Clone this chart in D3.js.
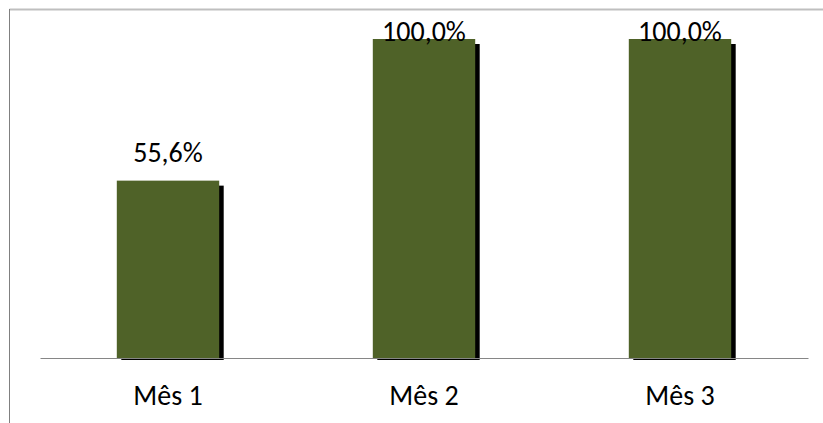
<!DOCTYPE html>
<html>
<head>
<meta charset="utf-8">
<script src="https://cdn.jsdelivr.net/npm/d3@7"></script>
<style>
html,body{margin:0;padding:0;background:#fff;}
svg{display:block;}
text{font-family:Carlito, Calibri, Lato, "Open Sans", sans-serif;fill:#000;}
</style>
</head>
<body>
<svg id="chart" width="823" height="423"></svg>
<script>
const categories = ["Mês 1", "Mês 2", "Mês 3"];
const values = [0.556, 1.0, 1.0];
const valueLabels = ["55,6%", "100,0%", "100,0%"];

const W = 823, H = 423;
const svg = d3.select("#chart");

// chart frame
svg.append("line").attr("x1", 9.5).attr("x2", 823).attr("y1", 9.5).attr("y2", 9.5)
  .attr("stroke", "#bfbfbf").attr("stroke-width", 2);
svg.append("line").attr("x1", 9.5).attr("x2", 9.5).attr("y1", 9).attr("y2", H)
  .attr("stroke", "#808080").attr("stroke-width", 1);

const x = d3.scaleBand().domain(categories).range([40, 808])
  .paddingInner(0.6).paddingOuter(0.3);
const y = d3.scaleLinear().domain([0, 1]).range([358, 39]);

const data = categories.map((c, i) => ({c, v: values[i], label: valueLabels[i]}));

// shadows
svg.append("g").selectAll("rect").data(data).join("rect")
  .attr("x", d => x(d.c) + 4.5)
  .attr("y", d => y(d.v) + 5)
  .attr("width", x.bandwidth())
  .attr("height", d => y(0) + 2 - (y(d.v) + 5))
  .attr("fill", "#000");

// bars
svg.append("g").selectAll("rect").data(data).join("rect")
  .attr("x", d => x(d.c))
  .attr("y", d => y(d.v))
  .attr("width", x.bandwidth())
  .attr("height", d => y(0) - y(d.v))
  .attr("fill", "#4f6228");

// baseline axis
const axis = svg.append("g").attr("transform", `translate(0,${y(0)})`)
  .call(d3.axisBottom(x).tickSize(0).tickPadding(0));
axis.select(".domain").attr("stroke", "#868686").attr("stroke-width", 1);
axis.selectAll("text").attr("font-size", 28).attr("dy", null).attr("y", 47)
  .attr("fill", "#000")
  .style("font-family", "Carlito, Calibri, Lato, 'Open Sans', sans-serif");

// value labels (clamped inside the plot area like the original)
svg.append("g").selectAll("text").data(data).join("text")
  .attr("x", d => x(d.c) + x.bandwidth() / 2)
  .attr("y", d => Math.max(y(d.v) - 19, 41))
  .attr("text-anchor", "middle")
  .attr("font-size", 28)
  .text(d => d.label);
</script>
</body>
</html>
